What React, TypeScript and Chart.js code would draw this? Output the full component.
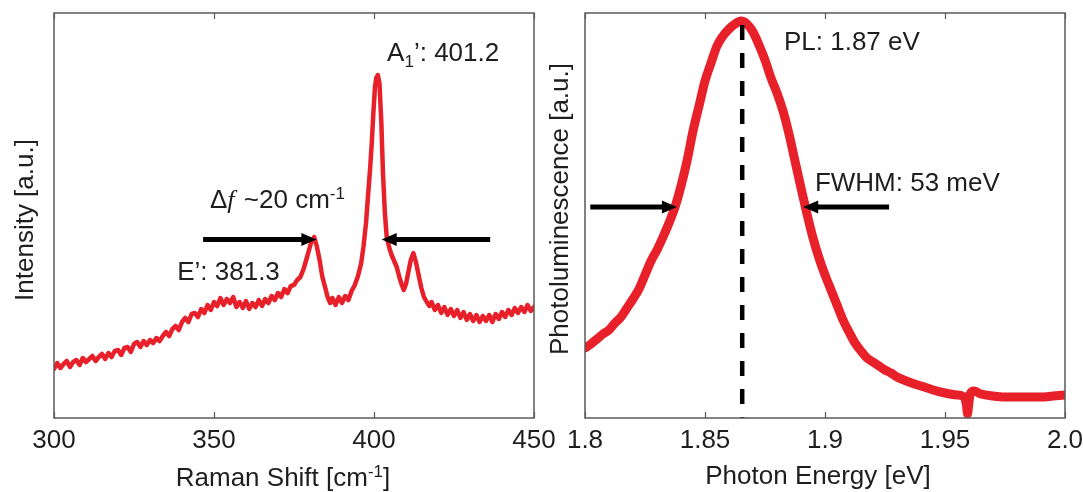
import React, { useEffect, useRef } from "react";
import { Chart, registerables } from "chart.js";

Chart.register(...registerables);

// ---------------- Raman spectrum (left panel) ----------------
const ramanShift = [
  300, 301, 302, 303, 304, 305, 306, 307, 308, 309,
  310, 311, 312, 313, 314, 315, 316, 317, 318, 319,
  320, 321, 322, 323, 324, 325, 326, 327, 328, 329,
  330, 331, 332, 333, 334, 335, 336, 337, 338, 339,
  340, 341, 342, 343, 344, 345, 346, 347, 348, 349,
  350, 351, 352, 353, 354, 355, 356, 357, 358, 359,
  360, 361, 362, 363, 364, 365, 366, 367, 368, 369,
  370, 371, 372, 373, 374, 375, 376, 377, 378, 379,
  379.7, 380.4, 381.3, 382.1, 383, 383.8, 384.7, 385.5, 386.3, 387,
  388, 389, 390, 391, 392, 393, 394, 395, 396, 396.7,
  397.5, 398.2, 398.8, 399.3, 399.8, 400.3, 400.7, 401.2, 401.7, 402.3,
  402.8, 403.4, 404, 404.8, 405.5, 406.3, 407.1, 408, 408.7, 409.3,
  410, 410.8, 411.5, 412.3, 413.1, 414, 414.8, 415.6, 416.5, 417.3,
  418, 419, 420, 421, 422, 423, 424, 425, 426, 427,
  428, 429, 430, 431, 432, 433, 434, 435, 436, 437,
  438, 439, 440, 441, 442, 443, 444, 445, 446, 447,
  448, 449, 450,
];
const ramanIntensity = [
  49, 55, 50, 54, 57, 51, 56, 58, 53, 60,
  56, 59, 62, 57, 61, 64, 59, 65, 61, 67,
  68, 63, 70, 71, 66, 74, 76, 71, 77, 73,
  78, 75, 80, 77, 82, 86, 82, 89, 92, 88,
  96, 100, 96, 104, 105, 101, 109, 105, 113, 108,
  116, 112, 120, 113, 119, 115, 121, 111, 116, 110,
  117, 109, 115, 111, 118, 112, 119, 115, 122, 118,
  125, 121, 129, 125, 132, 133, 138, 141, 149, 160,
  168, 176, 181, 172, 158, 142, 131, 121, 115, 120,
  113, 121, 115, 122, 118, 127, 133, 142, 155, 171,
  195, 225, 250, 275, 305, 331, 340, 343, 335, 295,
  245, 205, 180, 170, 163, 157, 151, 140, 133, 128,
  134, 147, 158, 165, 156, 142, 130, 121, 116, 112,
  116, 108, 113, 105, 111, 103, 109, 102, 108, 100,
  106, 98, 104, 97, 103, 96, 102, 97, 103, 96,
  104, 99, 106, 101, 108, 103, 110, 105, 111, 106,
  113, 107, 111,
];
const ramanTicks = [300, 350, 400, 450];
const ramanTickLabels = ["300", "350", "400", "450"];

// ---------------- Photoluminescence spectrum (right panel) ----------------
const plEnergy = [
  1.8, 1.8025, 1.805, 1.8075, 1.81, 1.8125, 1.815, 1.8175, 1.82, 1.8225,
  1.825, 1.8275, 1.83, 1.8325, 1.835, 1.8375, 1.84, 1.8425, 1.845, 1.8475,
  1.85, 1.8525, 1.855, 1.8575, 1.86, 1.8625, 1.865, 1.8675, 1.87, 1.8725,
  1.875, 1.8775, 1.88, 1.8825, 1.885, 1.8875, 1.89, 1.8925, 1.895, 1.8975,
  1.9, 1.9025, 1.905, 1.9075, 1.91, 1.9125, 1.915, 1.9175, 1.92, 1.9225,
  1.925, 1.9275, 1.93, 1.935, 1.94, 1.945, 1.95, 1.955, 1.958, 1.959,
  1.9594, 1.9598, 1.9605, 1.962, 1.965, 1.97, 1.975, 1.98, 1.985, 1.99,
  1.995, 2.0,
];
const plIntensity = [
  70, 74, 79, 84, 88, 95, 101, 110, 119, 129,
  143, 157, 168, 181, 195, 211, 232, 257, 287, 312,
  337, 355, 372, 382, 389, 394, 397, 394, 386, 373,
  358, 340, 325, 307, 284, 257, 230, 204, 180, 160,
  143, 128, 113, 98, 86, 75, 67, 60, 56, 52,
  48, 45, 41, 36, 32, 28, 25, 23, 21, 12,
  4, 12, 24, 27, 24, 22, 21, 21, 21, 21,
  22, 23,
];
const plTicks = [1.8, 1.85, 1.9, 1.95, 2.0];
const plTickLabels = ["1.8", "1.85", "1.9", "1.95", "2.0"];

// ---------------- Annotations (data coordinates) ----------------
const ramanArrows = [
  { from: 346.6, to: 382.0, y: 178.5 },
  { from: 436.3, to: 402.4, y: 178.5 },
];
const plArrows = [
  { from: 1.8022, to: 1.8383, y: 211 },
  { from: 1.9267, to: 1.8909, y: 211 },
];
const plPeakLine = { x: 1.8655, top: 393 };

type Run = { t: string; s?: "sub" | "sup" | "it" };
const ramanNotes: { x: number; y: number; runs: Run[] }[] = [
  { x: 404.1, y: 357.5, runs: [{ t: "A" }, { t: "1", s: "sub" }, { t: "’: 401.2" }] },
  { x: 348.75, y: 209.7, runs: [{ t: "Δ" }, { t: "f", s: "it" }, { t: " ~20 cm" }, { t: "-1", s: "sup" }] },
  { x: 338.5, y: 138, runs: [{ t: "E’: 381.3" }] },
];
const plNotes: { x: number; y: number; runs: Run[] }[] = [
  { x: 1.8829, y: 368, runs: [{ t: "PL: 1.87 eV" }] },
  { x: 1.8958, y: 227, runs: [{ t: "FWHM: 53 meV" }] },
];

const ramanXTitle: Run[] = [{ t: "Raman Shift [cm" }, { t: "-1", s: "sup" }, { t: "]" }];
const ramanYTitle: Run[] = [{ t: "Intensity [a.u.]" }];
const plXTitle: Run[] = [{ t: "Photon Energy [eV]" }];
const plYTitle: Run[] = [{ t: "Photoluminescence [a.u.]" }];

// ---------------- Styles ----------------
const W = 1083;
const H = 492;
const RED = "#e8202a";
const TEXT = "#1e1e1e";
const FRAME = "#5a5a5a";
const FAMILY = '"Liberation Sans", Arial, Helvetica, sans-serif';
const FS = 26;

function setRunFont(ctx: CanvasRenderingContext2D, r: Run) {
  if (r.s === "sub" || r.s === "sup") ctx.font = `17px ${FAMILY}`;
  else if (r.s === "it") ctx.font = `italic ${FS}px "Liberation Serif", "Times New Roman", serif`;
  else ctx.font = `${FS}px ${FAMILY}`;
}
function runsWidth(ctx: CanvasRenderingContext2D, runs: Run[]) {
  let w = 0;
  for (const r of runs) {
    setRunFont(ctx, r);
    w += ctx.measureText(r.t).width;
  }
  return w;
}
function drawRuns(ctx: CanvasRenderingContext2D, runs: Run[], x: number, y: number) {
  ctx.textAlign = "left";
  ctx.textBaseline = "alphabetic";
  ctx.fillStyle = TEXT;
  let cx = x;
  for (const r of runs) {
    setRunFont(ctx, r);
    const dy = r.s === "sub" ? 6 : r.s === "sup" ? -9 : 0;
    ctx.fillText(r.t, cx, y + dy);
    cx += ctx.measureText(r.t).width + (r.s === "it" ? 2 : 0);
  }
}

type Overlay = {
  ticks: number[];
  arrows: { from: number; to: number; y: number }[];
  notes: { x: number; y: number; runs: Run[] }[];
  xTitle: Run[];
  yTitle: Run[];
  xTitleDx: number;
  xTitleY: number;
  yTitleX: number;
  yTitleDy: number;
  peak?: { x: number; top: number };
};

function makeOverlay(cfg: Overlay) {
  return {
    id: "overlay",
    afterDraw(chart: any) {
      const ctx: CanvasRenderingContext2D = chart.ctx;
      const { left, right, top, bottom } = chart.chartArea;
      const xs = chart.scales.x;
      const ys = chart.scales.y;
      ctx.save();

      // dashed peak marker
      if (cfg.peak) {
        const px = xs.getPixelForValue(cfg.peak.x);
        ctx.strokeStyle = "#000";
        ctx.lineWidth = 4.5;
        ctx.setLineDash([15, 13]);
        ctx.beginPath();
        ctx.moveTo(px, ys.getPixelForValue(cfg.peak.top));
        ctx.lineTo(px, bottom);
        ctx.stroke();
        ctx.setLineDash([]);
      }

      // frame
      ctx.strokeStyle = FRAME;
      ctx.lineWidth = 1.5;
      ctx.strokeRect(left, top, right - left, bottom - top);

      // inward tick marks top & bottom
      ctx.lineWidth = 1.2;
      for (const v of cfg.ticks) {
        const px = Math.round(xs.getPixelForValue(v)) + 0.5;
        ctx.beginPath();
        ctx.moveTo(px, bottom);
        ctx.lineTo(px, bottom - 6);
        ctx.moveTo(px, top);
        ctx.lineTo(px, top + 6);
        ctx.stroke();
      }

      // arrows
      ctx.strokeStyle = "#000";
      ctx.fillStyle = "#000";
      for (const a of cfg.arrows) {
        const x0 = xs.getPixelForValue(a.from);
        const x1 = xs.getPixelForValue(a.to);
        const y = ys.getPixelForValue(a.y);
        const dir = Math.sign(x1 - x0);
        const head = 15;
        ctx.lineWidth = 5;
        ctx.beginPath();
        ctx.moveTo(x0, y);
        ctx.lineTo(x1 - dir * head + dir * 1, y);
        ctx.stroke();
        ctx.beginPath();
        ctx.moveTo(x1, y);
        ctx.lineTo(x1 - dir * head, y - 6.5);
        ctx.lineTo(x1 - dir * head, y + 6.5);
        ctx.closePath();
        ctx.fill();
      }

      // annotations
      for (const n of cfg.notes) {
        drawRuns(ctx, n.runs, xs.getPixelForValue(n.x), ys.getPixelForValue(n.y));
      }

      // x title
      const xw = runsWidth(ctx, cfg.xTitle);
      drawRuns(ctx, cfg.xTitle, (left + right) / 2 + cfg.xTitleDx - xw / 2, cfg.xTitleY);

      // y title (rotated)
      const yw = runsWidth(ctx, cfg.yTitle);
      ctx.save();
      ctx.translate(left + cfg.yTitleX, (top + bottom) / 2 + cfg.yTitleDy);
      ctx.rotate(-Math.PI / 2);
      drawRuns(ctx, cfg.yTitle, -yw / 2, 0);
      ctx.restore();

      ctx.restore();
    },
  };
}

function buildChart(
  canvas: HTMLCanvasElement,
  xs: number[],
  ys: number[],
  xMin: number,
  xMax: number,
  ticks: number[],
  tickLabels: string[],
  lineWidth: number,
  smooth: boolean,
  padLeft: number,
  padRight: number,
  overlay: Overlay
) {
  return new Chart(canvas, {
    type: "line",
    data: {
      datasets: [
        {
          data: xs.map((x, i) => ({ x, y: ys[i] })),
          borderColor: RED,
          borderWidth: lineWidth,
          pointRadius: 0,
          tension: 0,
          cubicInterpolationMode: smooth ? "monotone" : "default",
          fill: false,
          borderJoinStyle: "round",
          borderCapStyle: "round",
        },
      ],
    },
    options: {
      responsive: false,
      animation: false,
      devicePixelRatio: 1,
      events: [],
      layout: { padding: { left: padLeft, right: padRight, top: 13, bottom: 0 } },
      plugins: { legend: { display: false }, tooltip: { enabled: false } },
      scales: {
        x: {
          type: "linear",
          min: xMin,
          max: xMax,
          position: "bottom",
          grid: { display: false, drawTicks: false },
          border: { display: false },
          afterBuildTicks: (s: any) => {
            s.ticks = ticks.map((v) => ({ value: v }));
          },
          afterFit: (s: any) => {
            s.height = H - 418;
            s.paddingLeft = 0;
            s.paddingRight = 0;
          },
          ticks: {
            autoSkip: false,
            maxRotation: 0,
            minRotation: 0,
            padding: 7,
            color: TEXT,
            font: { family: FAMILY, size: FS },
            callback: (_v: any, i: number) => tickLabels[i],
          },
        },
        y: { display: false, min: 0, max: 405 },
      },
    } as any,
    plugins: [makeOverlay(overlay) as any],
  });
}

export default function App() {
  const leftRef = useRef<HTMLCanvasElement>(null);
  const rightRef = useRef<HTMLCanvasElement>(null);

  useEffect(() => {
    const a = buildChart(
      leftRef.current!,
      ramanShift,
      ramanIntensity,
      300,
      450,
      ramanTicks,
      ramanTickLabels,
      4.5,
      false,
      54,
      W - 534,
      {
        ticks: ramanTicks,
        arrows: ramanArrows,
        notes: ramanNotes,
        xTitle: ramanXTitle,
        yTitle: ramanYTitle,
        xTitleDx: -11,
        xTitleY: 486,
        yTitleX: -21,
        yTitleDy: 4.5,
      }
    );
    const b = buildChart(
      rightRef.current!,
      plEnergy,
      plIntensity,
      1.8,
      2.0,
      plTicks,
      plTickLabels,
      9,
      true,
      585,
      W - 1065,
      {
        ticks: plTicks,
        arrows: plArrows,
        notes: plNotes,
        xTitle: plXTitle,
        yTitle: plYTitle,
        xTitleDx: -7,
        xTitleY: 484,
        yTitleX: -17,
        yTitleDy: -6.5,
        peak: plPeakLine,
      }
    );
    return () => {
      a.destroy();
      b.destroy();
    };
  }, []);

  const cs: React.CSSProperties = { position: "absolute", left: 0, top: 0, width: W, height: H };
  return (
    <div style={{ position: "fixed", left: 0, top: 0, width: W, height: H, overflow: "hidden", background: "#fff" }}>
      <canvas ref={leftRef} width={W} height={H} style={cs} />
      <canvas ref={rightRef} width={W} height={H} style={cs} />
    </div>
  );
}
